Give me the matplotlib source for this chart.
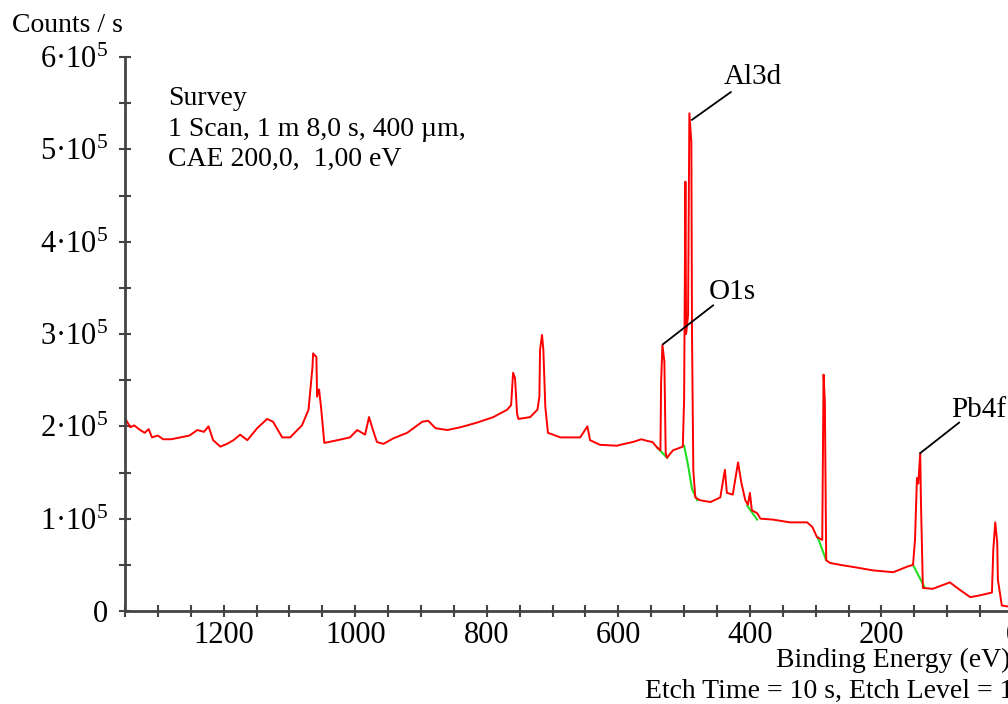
import numpy as np
import matplotlib
matplotlib.use("Agg")
import matplotlib.pyplot as plt
from matplotlib.ticker import MultipleLocator, FuncFormatter

plt.rcParams["font.family"] = ["Liberation Serif", "DejaVu Serif"]
plt.rcParams["mathtext.fontset"] = "custom"
plt.rcParams["mathtext.rm"] = "Liberation Serif"
plt.rcParams["mathtext.it"] = "Liberation Serif:italic"

# survey spectrum, binding energy (eV) vs counts/s
energia = [1350, 1346, 1342, 1336, 1327, 1320, 1314, 1309, 1300, 1292, 1280, 1266, 1252,
           1240, 1230, 1223, 1216, 1205, 1195, 1185, 1175, 1164,
           1149, 1134, 1125, 1111, 1099, 1081, 1071, 1065, 1064, 1059, 1058, 1055, 1052,
           1047, 1027, 1008, 997, 985, 979, 973, 967, 957, 942, 921, 898, 889, 878, 860,
           840, 815, 790, 769, 763, 760, 757, 754, 752, 734, 723, 720, 719, 716, 714, 711,
           707, 688, 658, 647, 643, 628, 602, 597, 578, 565, 555, 548, 541, 536, 535, 533, 530, 528,
           526, 517, 502, 500, 498, 497, 494, 492, 489, 488, 486, 483, 476, 460, 445, 438,
           435, 426, 418, 413, 407, 403, 400, 397, 389, 384, 365, 339, 313, 305, 298, 290,
           289, 288, 286, 284, 278, 263, 237, 213, 182, 161, 152, 149, 146, 144, 141, 140,
           137, 122, 96, 81, 65, 50, 32, 30, 27, 24, 23, 17, 9, 0]
conteggi = [209, 204, 199, 201, 196, 193, 197, 188, 190, 186, 186, 188, 190,
            196, 194, 200, 185, 178, 181, 185, 191, 185,
            198, 208, 205, 188, 188, 201, 218, 264, 279, 275, 232, 240, 221,
            182, 185, 188, 196, 191, 210, 196, 183, 181, 187, 193, 205, 206, 198, 196,
            199, 204, 210, 218, 223, 258, 252, 214, 208, 210, 218, 232, 283, 299, 283, 221,
            193, 188, 188, 200, 185, 180, 179, 180, 183, 186, 184, 183, 177, 174, 247, 288, 270, 171,
            166, 174, 178, 229, 465, 300, 320, 539, 508, 300, 152, 123, 120, 118, 123, 153,
            128, 126, 161, 139, 120, 115, 128, 109, 106, 100, 99, 96, 96, 91, 80, 77,
            160, 256, 226, 55, 52, 50, 47, 44, 42, 48, 50, 77, 144, 138, 171, 120,
            25, 24, 31, 23, 15, 17, 20, 66, 96, 74, 34, 6, 5, 5]
conteggi = np.array(conteggi) * 1000

# fondi (background) sotto i picchi
fondi = [
    ([541, 526], [177, 166]),
    ([500, 494, 488, 480], [179, 158, 132, 120]),
    ([404, 389], [114, 99]),
    ([297, 284], [80, 55]),
    ([152, 134], [50, 25]),
]

# etichette picchi: (testo, picco eV, picco counts, fine linea eV, fine linea counts, testo eV, testo counts)
etichette = [
    ("Al3d", 488, 532000, 429, 562000, 395, 578000),
    ("O1s", 532, 289000, 456, 331000, 426, 345000),
    ("Pb4f", 141, 171000, 82, 204000, 52, 218000),
]

fig = plt.figure(figsize=(10.08, 7.04), dpi=100)
ax = fig.add_axes([125 / 1008, 93 / 704, 888 / 1008, 554 / 704])

for e, c in fondi:
    ax.plot(e, np.array(c) * 1000, color="#22dd22", linewidth=1.5, zorder=1)
ax.plot(energia, conteggi, color="red", linewidth=1.4, zorder=2)

for testo, pe, pc, le, lc, te, tc in etichette:
    ax.plot([pe, le], [pc, lc], color="black", linewidth=1.3, zorder=3)
    ax.text(te, tc, testo, fontsize=21, ha="center", va="center")

ax.set_xlim(1350, 0)
ax.set_ylim(0, 6e5)
ax.xaxis.set_major_locator(MultipleLocator(200))
ax.xaxis.set_minor_locator(MultipleLocator(50))
ax.yaxis.set_major_locator(MultipleLocator(1e5))
ax.yaxis.set_minor_locator(MultipleLocator(5e4))


def fmt_y(v, pos):
    n = int(round(v / 1e5))
    if n == 0:
        return "0"
    return "%d\u00b710$^{5}$" % n


ax.yaxis.set_major_formatter(FuncFormatter(fmt_y))
ax.xaxis.set_major_formatter(FuncFormatter(lambda v, p: "%d" % v))

for s in ["top", "right"]:
    ax.spines[s].set_visible(False)
for s in ["left", "bottom"]:
    ax.spines[s].set_color("#444444")
    ax.spines[s].set_linewidth(2)

ax.tick_params(which="both", direction="inout", length=8, width=1.5, color="#444444",
               labelsize=22)
ax.tick_params(axis="x", pad=3)
ax.tick_params(axis="y", pad=8)

ax.text(168 / 1008, 1 - 86 / 704,
        "Survey\n1 Scan, 1 m 8,0 s, 400 \u00b5m,\nCAE 200,0,  1,00 eV",
        transform=fig.transFigure, fontsize=20, va="top", ha="left", linespacing=1.3)

fig.text(12 / 1008, 1 - 25 / 704, "Counts / s", fontsize=20, ha="left", va="center")
fig.text(776 / 1008, 1 - 660 / 704, "Binding Energy (eV)", fontsize=20, ha="left", va="center")
fig.text(645 / 1008, 1 - 691 / 704, "Etch Time = 10 s, Etch Level = 1", fontsize=20,
         ha="left", va="center")

fig.savefig("out.png", dpi=100)
